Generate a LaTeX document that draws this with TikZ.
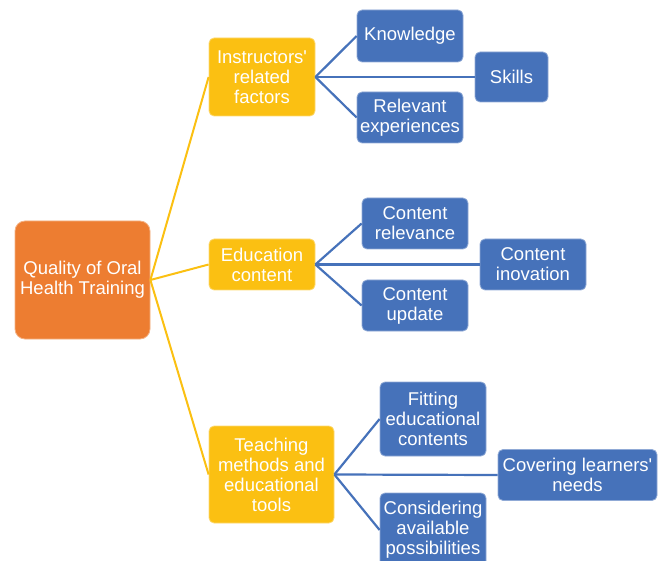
\documentclass[tikz,border=0pt]{standalone}
\usepackage{fontspec}
\setmainfont{Liberation Sans}
\definecolor{orng}{HTML}{ED7D31}
\definecolor{yell}{HTML}{FBC012}
\definecolor{blu}{HTML}{4672BA}
\tikzset{
  box/.style={rectangle, rounded corners=5pt, text=white, align=center, inner sep=1pt,
    font=\fontsize{18.5}{20}\selectfont, line width=0.8pt},
  rootbox/.style={box, fill=orng, draw=orng!60!white, rounded corners=10pt},
  ybox/.style={box, fill=yell, draw=yell!60!white},
  bbox/.style={box, fill=blu, draw=blu!60!white},
  yline/.style={draw=yell, line width=2pt},
  bline/.style={draw=blu, line width=2.2pt},
}
\begin{document}
\begin{tikzpicture}[x=1pt,y=-1pt]
\useasboundingbox (0,0) rectangle (661,561);
\clip (0,0) rectangle (661,561);
\node[rootbox, minimum width=135pt, minimum height=118pt] (root) at (82.5,280) {Quality of Oral\\Health Training};
\node[ybox, minimum width=106pt, minimum height=78pt] (instr) at (262,77) {Instructors\textquotesingle\\related\\factors};
\node[ybox, minimum width=106pt, minimum height=51pt] (edu) at (262,264.5) {Education\\content};
\node[ybox, minimum width=125pt, minimum height=97pt] (teach) at (271.5,474.5) {Teaching\\methods and\\educational\\tools};
\node[bbox, minimum width=106pt, minimum height=52pt] (know) at (410,36) {Knowledge};
\node[bbox, minimum width=73pt, minimum height=50pt] (skills) at (511.5,77) {Skills};
\node[bbox, minimum width=106pt, minimum height=51pt] (relexp) at (410,117.5) {Relevant\\experiences};
\node[bbox, minimum width=106pt, minimum height=51pt] (crel) at (415,223.5) {Content\\relevance};
\node[bbox, minimum width=106pt, minimum height=51pt] (cinov) at (533,264.5) {Content\\inovation};
\node[bbox, minimum width=106pt, minimum height=51pt] (cupd) at (415,305.5) {Content\\update};
\node[bbox, minimum width=106pt, minimum height=74pt] (fit) at (433,419) {Fitting\\educational\\contents};
\node[bbox, minimum width=159pt, minimum height=51pt] (cover) at (577.5,475) {Covering learners\textquotesingle\\needs};
\node[bbox, minimum width=106pt, minimum height=74pt] (consider) at (433,530) {Considering\\available\\possibilities};
\draw[yline] (root.east) -- (instr.west);
\draw[yline] (root.east) -- (edu.west);
\draw[yline] (root.east) -- (teach.west);
\draw[bline] (instr.east) -- (know.west);
\draw[bline] (instr.east) -- (skills.west);
\draw[bline] (instr.east) -- (relexp.west);
\draw[bline] (edu.east) -- (crel.west);
\draw[bline] (edu.east) -- (cinov.west);
\draw[bline] (edu.east) -- (cupd.west);
\draw[bline] (teach.east) -- (fit.west);
\draw[bline] (teach.east) -- (cover.west);
\draw[bline] (teach.east) -- (consider.west);
\end{tikzpicture}
\end{document}
